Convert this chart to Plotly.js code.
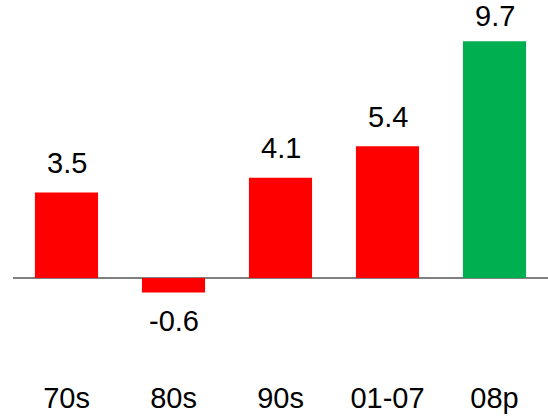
<!DOCTYPE html>
<html>
<head>
<meta charset="utf-8">
<script src="https://cdn.plot.ly/plotly-3.0.1.min.js"></script>
<style>html,body{margin:0;padding:0;background:#fff}#chart{width:548px;height:418px}</style>
</head>
<body>
<div id="chart"></div>
<script>
const categories = ["70s", "80s", "90s", "01-07", "08p"];
const values = [3.5, -0.6, 4.1, 5.4, 9.7];
const labels = ["3.5", "-0.6", "4.1", "5.4", "9.7"];
const colors = ["#FF0000", "#FF0000", "#FF0000", "#FF0000", "#00B050"];

const FONT = "Liberation Sans, Arial, sans-serif";
const Y_RANGE = [-3.98, 11.39];
const PX_PER_UNIT = 375 / (Y_RANGE[1] - Y_RANGE[0]);
const LABEL_CAP = Y_RANGE[1] - 16 / PX_PER_UNIT;
const annotations = values.map((v, i) => ({
  x: categories[i],
  y: v >= 0 ? Math.min(v + 29.5 / PX_PER_UNIT, LABEL_CAP) : v,
  text: labels[i], showarrow: false,
  xanchor: "center", yanchor: "middle", borderpad: 0,
  yshift: v >= 0 ? 0 : -28.5,
  font: {family: FONT, size: 29, color: "#000"}
}));

Plotly.newPlot("chart", [{
  type: "bar", x: categories, y: values,
  marker: {color: colors, line: {width: 0}},
  hoverinfo: "none"
}], {
  width: 548, height: 418,
  margin: {l: 13, r: 0, t: 0, b: 43, pad: 0},
  paper_bgcolor: "#fff", plot_bgcolor: "#fff",
  bargap: 0.41,
  showlegend: false,
  xaxis: {type: "category", range: [-0.5, 4.5], showline: false, showgrid: false, zeroline: false,
    ticks: "", ticklabelstandoff: 3, tickfont: {family: FONT, size: 29, color: "#000"}, automargin: false, fixedrange: true},
  yaxis: {range: Y_RANGE, showgrid: false, showticklabels: false, ticks: "",
    zeroline: true, zerolinecolor: "#808080", zerolinewidth: 2, showline: false, automargin: false, fixedrange: true},
  annotations: annotations
}, {displayModeBar: false, staticPlot: true});
</script>
</body>
</html>
